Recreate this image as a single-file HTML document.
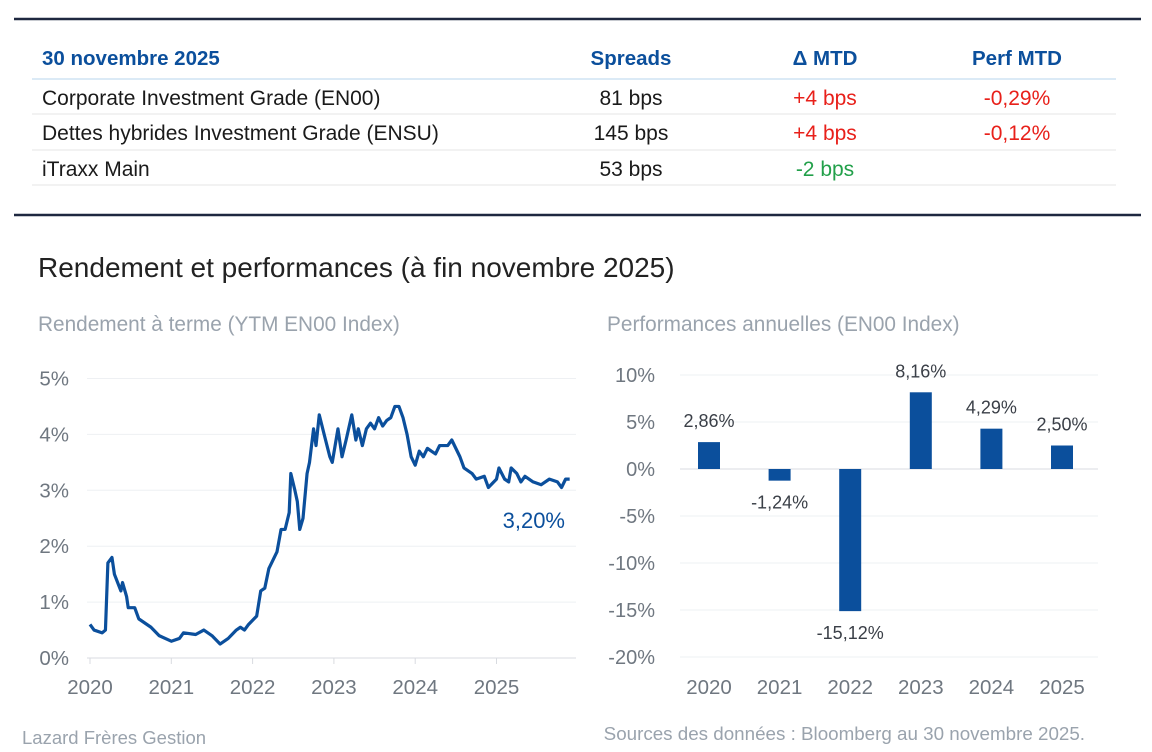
<!DOCTYPE html>
<html><head><meta charset="utf-8"><style>
html,body{margin:0;padding:0;background:#fff;width:1152px;height:752px;overflow:hidden}
svg{display:block;font-family:"Liberation Sans",sans-serif}
</style></head><body>
<svg id="s" width="1152" height="752" viewBox="0 0 1152 752">
<g>
<line x1="14" y1="19" x2="1141" y2="19" stroke="#1e2840" stroke-width="2.5"/>
<text x="42" y="65" font-size="20.5" font-weight="bold" fill="#0b4f9c">30 novembre 2025</text>
<text x="631" y="65" font-size="20.5" font-weight="bold" fill="#0b4f9c" text-anchor="middle">Spreads</text>
<text x="825" y="65" font-size="20.5" font-weight="bold" fill="#0b4f9c" text-anchor="middle">Δ MTD</text>
<text x="1017" y="65" font-size="20.5" font-weight="bold" fill="#0b4f9c" text-anchor="middle">Perf MTD</text>
<line x1="32" y1="79" x2="1116" y2="79" stroke="#cfe3f3" stroke-width="1.5"/>
<g font-size="21" fill="#1a1a1a">
<text x="42" y="105">Corporate Investment Grade (EN00)</text>
<text x="631" y="105" text-anchor="middle">81 bps</text>
<text x="825" y="105" text-anchor="middle" fill="#e8201a">+4 bps</text>
<text x="1017" y="105" text-anchor="middle" fill="#e8201a">-0,29%</text>
<text x="42" y="140">Dettes hybrides Investment Grade (ENSU)</text>
<text x="631" y="140" text-anchor="middle">145 bps</text>
<text x="825" y="140" text-anchor="middle" fill="#e8201a">+4 bps</text>
<text x="1017" y="140" text-anchor="middle" fill="#e8201a">-0,12%</text>
<text x="42" y="176">iTraxx Main</text>
<text x="631" y="176" text-anchor="middle">53 bps</text>
<text x="825" y="176" text-anchor="middle" fill="#22a04a">-2 bps</text>
</g>
<line x1="32" y1="114" x2="1116" y2="114" stroke="#e6e6e6"/>
<line x1="32" y1="150" x2="1116" y2="150" stroke="#e6e6e6"/>
<line x1="32" y1="185" x2="1116" y2="185" stroke="#e6e6e6"/>
<line x1="14" y1="215" x2="1141" y2="215" stroke="#1e2840" stroke-width="2.5"/>
</g>
<text x="38" y="277" font-size="28" fill="#222">Rendement et performances (à fin novembre 2025)</text>
<text x="38" y="331" font-size="20.8" fill="#9aa3ad">Rendement à terme (YTM EN00 Index)</text>
<text x="607" y="331" font-size="20.8" fill="#9aa3ad">Performances annuelles (EN00 Index)</text>
<g id="line"></g>
<g id="bars"></g>
<text x="22" y="744" font-size="18.5" fill="#9aa3ad">Lazard Frères Gestion</text>
<text x="1085" y="740" font-size="18.8" fill="#9aa3ad" text-anchor="end">Sources des données : Bloomberg au 30 novembre 2025.</text>
</svg>
<script>
const ytmTimes=[2020.0,2020.05,2020.15,2020.19,2020.22,2020.27,2020.3,2020.38,2020.4,2020.45,2020.47,2020.55,2020.6,2020.75,2020.85,2021.0,2021.1,2021.15,2021.3,2021.4,2021.5,2021.6,2021.7,2021.8,2021.85,2021.9,2021.95,2022.05,2022.1,2022.15,2022.2,2022.3,2022.35,2022.4,2022.45,2022.47,2022.52,2022.55,2022.58,2022.62,2022.67,2022.7,2022.75,2022.78,2022.82,2022.88,2022.95,2022.98,2023.05,2023.1,2023.15,2023.22,2023.27,2023.3,2023.35,2023.4,2023.45,2023.5,2023.55,2023.6,2023.65,2023.7,2023.75,2023.8,2023.85,2023.9,2023.95,2024.0,2024.05,2024.1,2024.15,2024.2,2024.25,2024.3,2024.4,2024.45,2024.5,2024.55,2024.6,2024.7,2024.75,2024.85,2024.9,2025.0,2025.03,2025.1,2025.15,2025.18,2025.25,2025.3,2025.35,2025.45,2025.55,2025.65,2025.75,2025.8,2025.85,2025.9];
const ytmValues=[0.6,0.5,0.45,0.5,1.7,1.8,1.5,1.2,1.35,1.1,0.9,0.9,0.7,0.55,0.4,0.3,0.35,0.45,0.42,0.5,0.4,0.25,0.35,0.5,0.55,0.5,0.6,0.75,1.2,1.25,1.6,1.9,2.3,2.3,2.6,3.3,3.0,2.8,2.3,2.5,3.3,3.5,4.1,3.8,4.35,4.0,3.6,3.5,4.1,3.6,3.9,4.35,3.9,4.1,3.8,4.1,4.2,4.1,4.3,4.15,4.25,4.3,4.5,4.5,4.3,4.0,3.6,3.45,3.7,3.6,3.75,3.7,3.65,3.8,3.8,3.9,3.75,3.6,3.4,3.3,3.2,3.25,3.05,3.2,3.4,3.2,3.15,3.4,3.3,3.15,3.25,3.15,3.1,3.2,3.15,3.05,3.2,3.2];
const ytmTicks=[0,1,2,3,4,5];
const yearTicks=[2020,2021,2022,2023,2024,2025];
const lastLabel="3,20%";
const barCats=["2020","2021","2022","2023","2024","2025"];
const barValues=[2.86,-1.24,-15.12,8.16,4.29,2.50];
const barLabels=["2,86%","-1,24%","-15,12%","8,16%","4,29%","2,50%"];
const barTicks=[10,5,0,-5,-10,-15,-20];
const barTickLabels=["10%","5%","0%","-5%","-10%","-15%","-20%"];

const NS="http://www.w3.org/2000/svg";
function mk(p,t,a,txt){const e=document.createElementNS(NS,t);for(const k in a)e.setAttribute(k,a[k]);if(txt!=null)e.textContent=txt;p.appendChild(e);return e;}

const L=document.getElementById('line');
const lx=t=>90+(t-2020)*81.3, ly=v=>658-v*55.9;
ytmTicks.forEach(v=>{
  const g=mk(L,'line',{x1:87,x2:576,y1:ly(v),y2:ly(v),stroke:v===0?'#d8dbe0':'#eef0f3','stroke-width':1});
  
  
  const t=mk(L,'text',{x:69,y:ly(v)+7,'font-size':20.5,fill:'#6f7780','text-anchor':'end'},v+'%');
  
  
});
yearTicks.forEach(y=>{
  mk(L,'line',{x1:lx(y),x2:lx(y),y1:658,y2:664,stroke:'#d8dbe0'});
  const t=mk(L,'text',{x:lx(y),y:694,'font-size':20.5,fill:'#6f7780','text-anchor':'middle'},String(y));
  
  
});
const pl=mk(L,'polyline',{points:ytmTimes.map((t,i)=>lx(t)+','+ly(ytmValues[i])).join(' '),fill:'none',stroke:'#0b4f9c','stroke-width':3.2,'stroke-linejoin':'round'});


const ll=mk(L,'text',{x:565,y:ly(ytmValues[ytmValues.length-1])+49,'font-size':22,fill:'#0b4f9c','text-anchor':'end'},lastLabel);



const B=document.getElementById('bars');
const by=v=>469-v*9.4, bx=i=>709+i*70.6;
barTicks.forEach((v,i)=>{
  const g=mk(B,'line',{x1:680,x2:1098,y1:by(v),y2:by(v),stroke:v===0?'#d8dbe0':'#eef0f3'});
  
  
  const t=mk(B,'text',{x:655,y:by(v)+7,'font-size':20,fill:'#6f7780','text-anchor':'end'},barTickLabels[i]);
  
  
});
barCats.forEach((c,i)=>{
  const v=barValues[i];
  const r=mk(B,'rect',{x:bx(i)-11,y:Math.min(by(v),by(0)),width:22,height:Math.abs(by(v)-by(0)),fill:'#0b4f9c'});
  
  
  const t=mk(B,'text',{x:bx(i),y:v>=0?by(v)-15:by(v)+28,'font-size':18,fill:'#3a3f47','text-anchor':'middle'},barLabels[i]);
  
  
  const x=mk(B,'text',{x:bx(i),y:694,'font-size':20.5,fill:'#6f7780','text-anchor':'middle'},c);
  
  
});
</script>
</body></html>
